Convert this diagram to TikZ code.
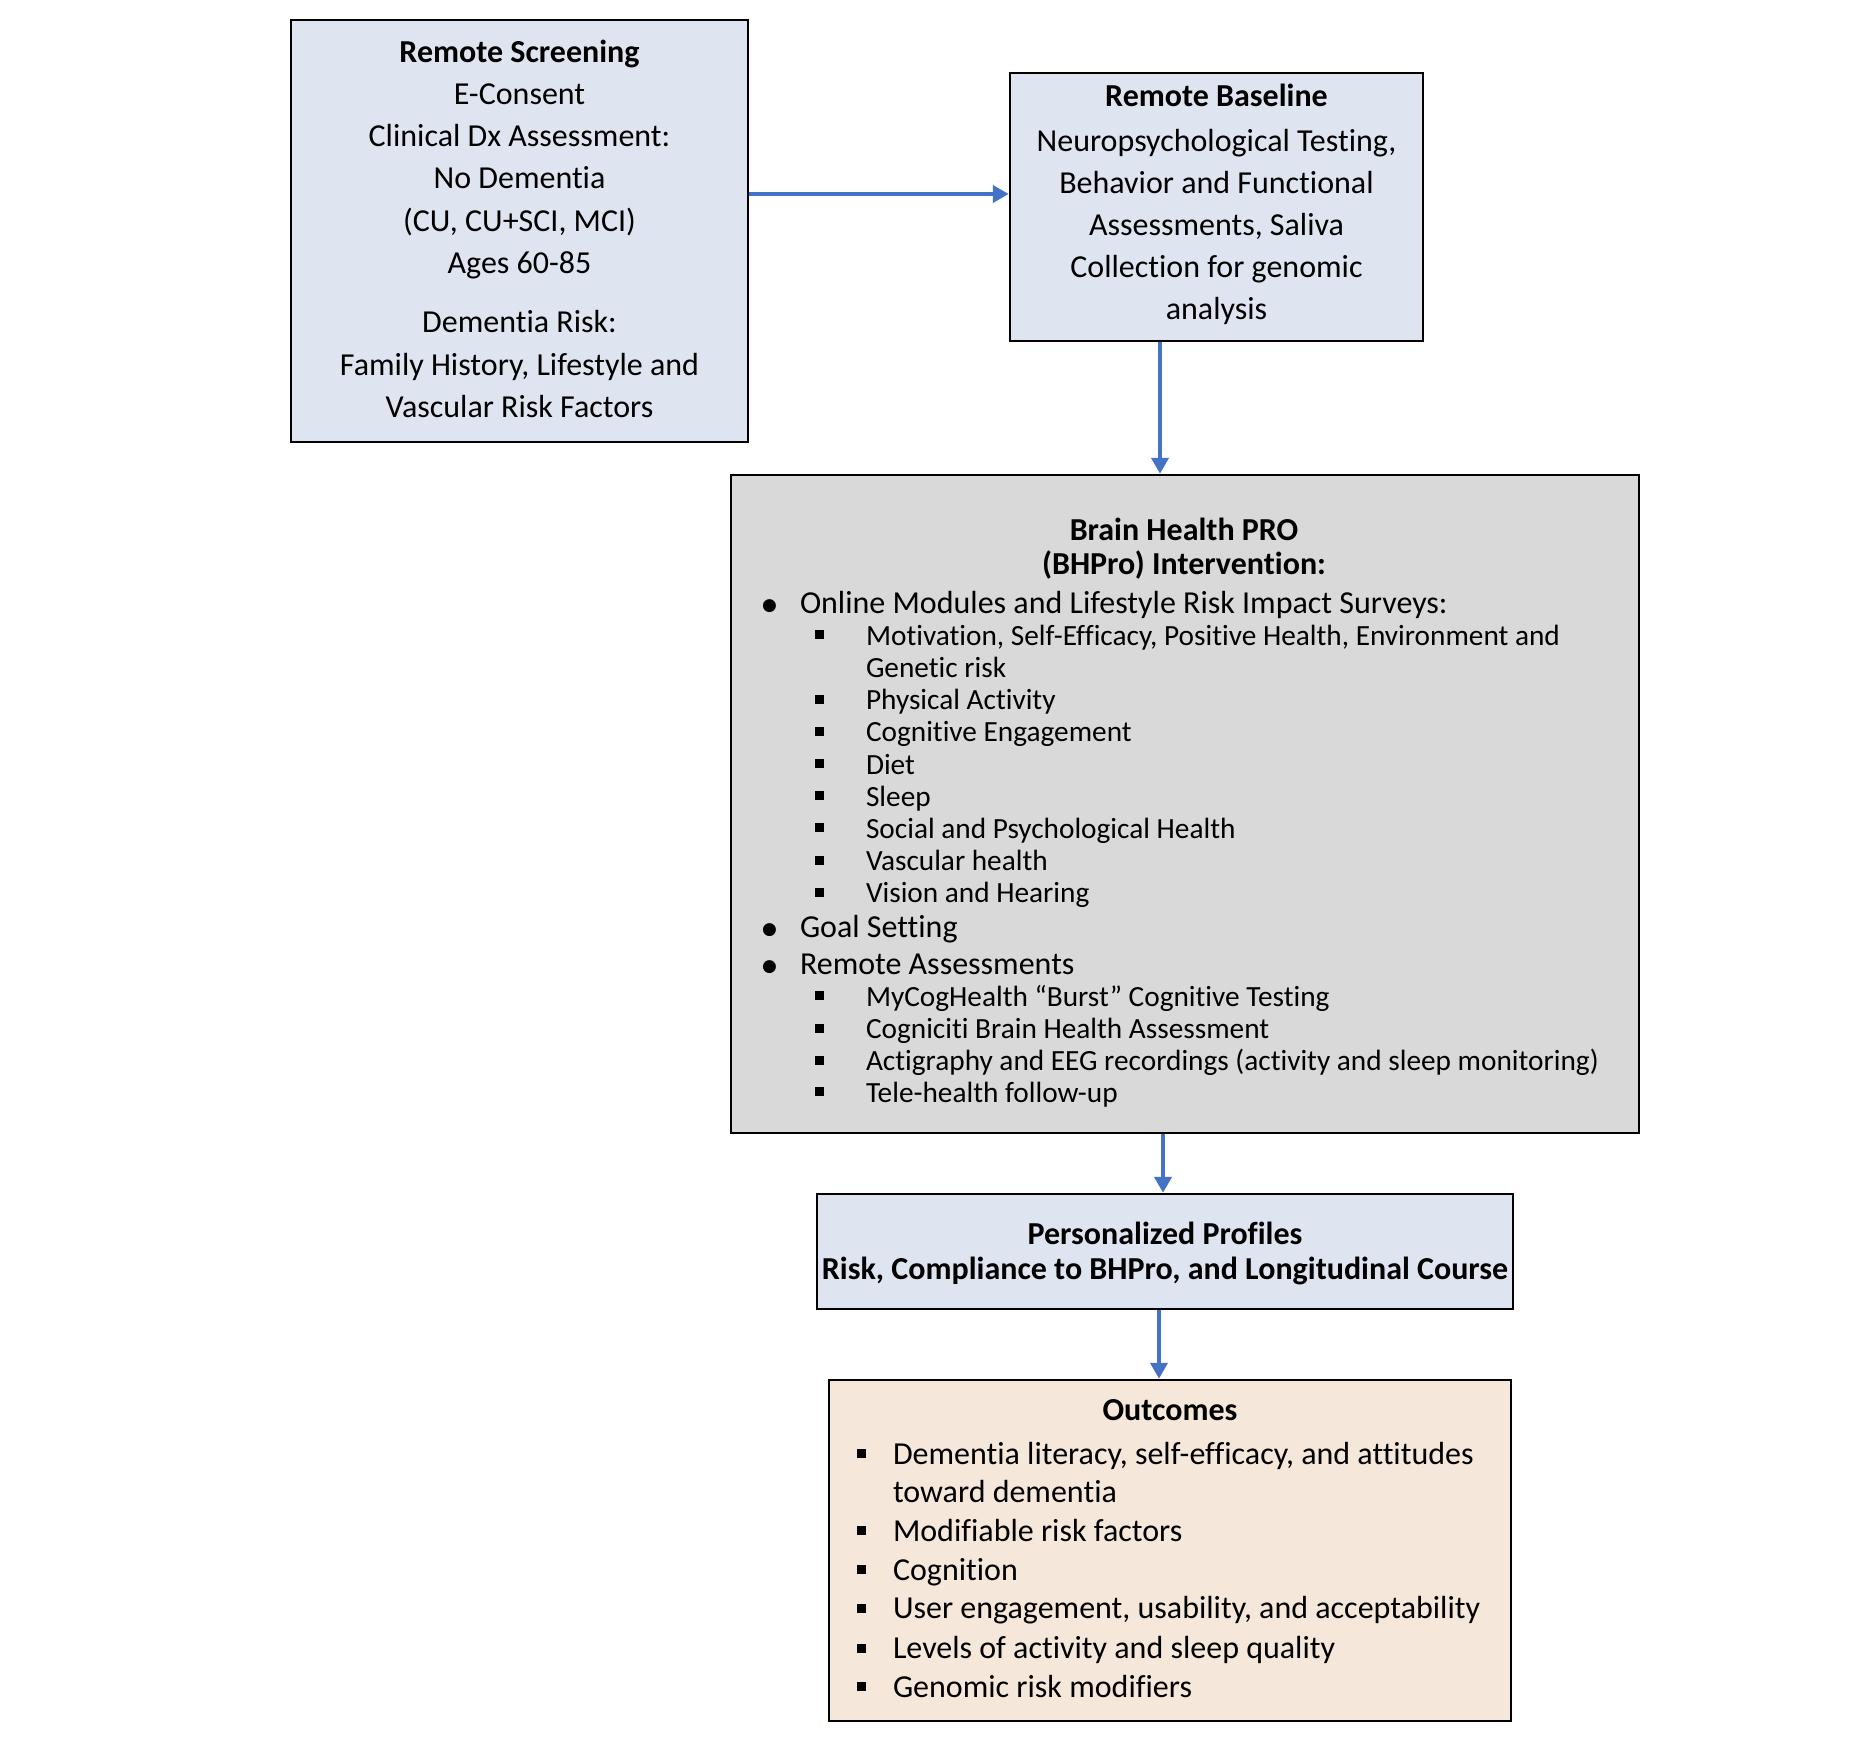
\documentclass[tikz,border=0pt]{standalone}
\usepackage{fontspec}
\setmainfont{Carlito}[Ligatures=NoCommon]
\newfontfamily\djv{DejaVu Sans}
\usetikzlibrary{arrows.meta}
\definecolor{boxblue}{HTML}{DFE5F0}
\definecolor{boxgray}{HTML}{D9D9D9}
\definecolor{boxtan}{HTML}{F5E7D9}
\definecolor{arrblue}{HTML}{4472C4}
\newcommand{\mysq}{\raisebox{6pt}{\rule{9pt}{9pt}}}
\newcommand{\mydot}{\raisebox{3pt}{\djv\fontsize{17}{17}\selectfont ●}}
\newcommand{\topstrut}{\rule{0pt}{30pt}}
\newcommand{\subf}{\fontsize{29.3}{32.2}\selectfont}
\begin{document}
\begin{tikzpicture}[x=1pt,y=-1pt,
  box/.style={draw=black, line width=2.5pt, inner sep=0, rectangle},
  txt/.style={inner sep=0, outer sep=0, align=center, anchor=north},
  lst/.style={inner sep=0, outer sep=0, align=left, anchor=north west},
  arr/.style={draw=arrblue, line width=4pt, -{Triangle[length=16pt,width=17pt]}}]
\useasboundingbox (0,0) rectangle (1870,1746);
\fill[white] (0,0) rectangle (1870,1746);

% boxes
\node[box, fill=boxblue, minimum width=457pt, minimum height=422pt] (scr) at (519.5,231) {};
\node[box, fill=boxblue, minimum width=413pt, minimum height=268pt] (base) at (1216.5,207) {};
\node[box, fill=boxgray, minimum width=908pt, minimum height=658pt] (bh) at (1185,804) {};
\node[box, fill=boxblue, minimum width=696pt, minimum height=115pt] (pers) at (1165,1251.5) {};
\node[box, fill=boxtan, minimum width=682pt, minimum height=341pt] (out) at (1170,1550.5) {};

% texts
\node[txt, font=\fontsize{32}{42.3}\selectfont] (scrtxt) at (519.5,32) {\topstrut\textbf{Remote Screening}\\E-Consent\\Clinical Dx Assessment:\\No Dementia\\(CU, CU+SCI, MCI)\\Ages 60-85\\[17pt]Dementia Risk:\\Family History, Lifestyle and\\Vascular Risk Factors};

\node[txt, font=\fontsize{32}{42}\selectfont] (basetxt) at (1216.5,76) {\topstrut\textbf{Remote Baseline}\\[3.5pt]Neuropsychological Testing,\\Behavior and Functional\\Assessments, Saliva\\Collection for genomic\\analysis};

\node[txt, font=\fontsize{32}{34}\selectfont\bfseries] (bhtitle) at (1184,510) {\topstrut Brain Health PRO\\(BHPro) Intervention:};

\node[lst, font=\fontsize{32}{32.2}\selectfont] (bhlist) at (762,583) {\topstrut\makebox[38pt][l]{\mydot}Online Modules and Lifestyle Risk Impact Surveys:\\
\hspace{53pt}\makebox[51pt][l]{\mysq}{\subf Motivation, Self-Efficacy, Positive Health, Environment and}\\
\hspace{104pt}{\subf Genetic risk}\\
\hspace{53pt}\makebox[51pt][l]{\mysq}{\subf Physical Activity}\\
\hspace{53pt}\makebox[51pt][l]{\mysq}{\subf Cognitive Engagement}\\
\hspace{53pt}\makebox[51pt][l]{\mysq}{\subf Diet}\\
\hspace{53pt}\makebox[51pt][l]{\mysq}{\subf Sleep}\\
\hspace{53pt}\makebox[51pt][l]{\mysq}{\subf Social and Psychological Health}\\
\hspace{53pt}\makebox[51pt][l]{\mysq}{\subf Vascular health}\\
\hspace{53pt}\makebox[51pt][l]{\mysq}{\subf Vision and Hearing}\\[2pt]
\makebox[38pt][l]{\mydot}Goal Setting\\[5pt]
\makebox[38pt][l]{\mydot}Remote Assessments\\
\hspace{53pt}\makebox[51pt][l]{\mysq}{\subf MyCogHealth “Burst” Cognitive Testing}\\
\hspace{53pt}\makebox[51pt][l]{\mysq}{\subf Cogniciti Brain Health Assessment}\\
\hspace{53pt}\makebox[51pt][l]{\mysq}{\subf Actigraphy and EEG recordings (activity and sleep monitoring)}\\[-1pt]
\hspace{53pt}\makebox[51pt][l]{\mysq}{\subf Tele-health follow-up}};

\node[txt, font=\fontsize{32}{35}\selectfont\bfseries] (perstxt) at (1165,1214) {\topstrut Personalized Profiles\\Risk, Compliance to BHPro, and Longitudinal Course};

\node[txt, font=\fontsize{32}{38}\selectfont\bfseries] (outtitle) at (1170,1390) {\topstrut Outcomes};

\node[lst, font=\fontsize{32}{38.7}\selectfont] (outlist) at (857,1434) {\topstrut\makebox[36pt][l]{\mysq}Dementia literacy, self-efficacy, and attitudes\\
\hspace{36pt}toward dementia\\
\makebox[36pt][l]{\mysq}Modifiable risk factors\\
\makebox[36pt][l]{\mysq}Cognition\\
\makebox[36pt][l]{\mysq}User engagement, usability, and acceptability\\[1pt]
\makebox[36pt][l]{\mysq}Levels of activity and sleep quality\\
\makebox[36pt][l]{\mysq}Genomic risk modifiers};

% connectors
\draw[arr] (scr.east |- 0,194) -- (base.west |- 0,194);
\draw[arr] (base.south -| 1160,0) -- (bh.north -| 1160,0);
\draw[arr] (bh.south -| 1163,0) -- (pers.north -| 1163,0);
\draw[arr] (pers.south -| 1159,0) -- (out.north -| 1159,0);
\end{tikzpicture}
\end{document}
